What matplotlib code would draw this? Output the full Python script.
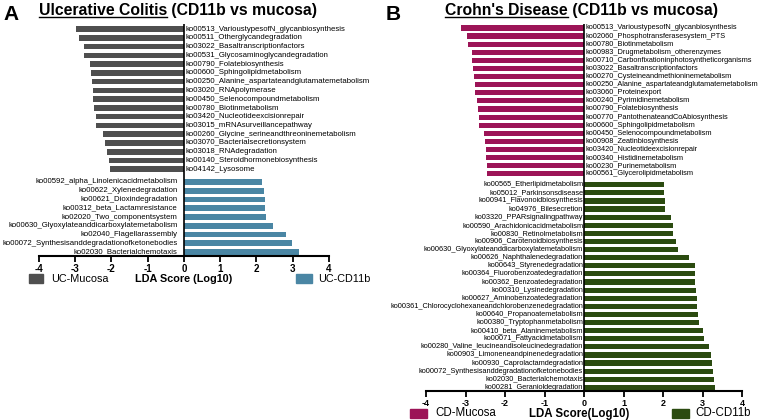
import matplotlib.pyplot as plt
import numpy as np
from matplotlib.patches import Rectangle
from matplotlib.lines import Line2D

plt.rcParams['font.family'] = ['Liberation Sans', 'DejaVu Sans']
plt.rcParams['axes.unicode_minus'] = False

# ---- data: Ulcerative Colitis ----
uc_muc_labels = [
    'ko00513_VarioustypesofN_glycanbiosynthesis', 'ko00511_Otherglycandegradation',
    'ko03022_Basaltranscriptionfactors', 'ko00531_Glycosaminoglycandegradation',
    'ko00790_Folatebiosynthesis', 'ko00600_Sphingolipidmetabolism',
    'ko00250_Alanine_aspartateandglutamatemetabolism', 'ko03020_RNApolymerase',
    'ko00450_Selenocompoundmetabolism', 'ko00780_Biotinmetabolism',
    'ko03420_Nucleotideexcisionrepair', 'ko03015_mRNAsurveillancepathway',
    'ko00260_Glycine_serineandthreoninemetabolism', 'ko03070_Bacterialsecretionsystem',
    'ko03018_RNAdegradation', 'ko00140_Steroidhormonebiosynthesis', 'ko04142_Lysosome']
uc_muc_lda = [-2.97, -2.90, -2.75, -2.74, -2.59, -2.55, -2.53, -2.51, -2.49, -2.48,
              -2.42, -2.41, -2.23, -2.17, -2.11, -2.06, -2.03]
uc_cd_labels = [
    'ko00592_alpha_Linolenicacidmetabolism', 'ko00622_Xylenedegradation',
    'ko00621_Dioxindegradation', 'ko00312_beta_Lactamresistance',
    'ko02020_Two_componentsystem', 'ko00630_Glyoxylateanddicarboxylatemetabolism',
    'ko02040_Flagellarassembly', 'ko00072_Synthesisanddegradationofketonebodies',
    'ko02030_Bacterialchemotaxis']
uc_cd_lda = [2.14, 2.21, 2.23, 2.24, 2.26, 2.46, 2.81, 2.99, 3.18]

# ---- data: Crohn's Disease ----
cd_muc_labels = [
    'ko00513_VarioustypesofN_glycanbiosynthesis', 'ko02060_Phosphotransferasesystem_PTS',
    'ko00780_Biotinmetabolism', 'ko00983_Drugmetabolism_otherenzymes',
    'ko00710_Carbonfixationinphotosyntheticorganisms', 'ko03022_Basaltranscriptionfactors',
    'ko00270_Cysteineandmethioninemetabolism', 'ko00250_Alanine_aspartateandglutamatemetabolism',
    'ko03060_Proteinexport', 'ko00240_Pyrimidinemetabolism', 'ko00790_Folatebiosynthesis',
    'ko00770_PantothenateandCoAbiosynthesis', 'ko00600_Sphingolipidmetabolism',
    'ko00450_Selenocompoundmetabolism', 'ko00908_Zeatinbiosynthesis',
    'ko03420_Nucleotideexcisionrepair', 'ko00340_Histidinemetabolism',
    'ko00230_Purinemetabolism', 'ko00561_Glycerolipidmetabolism']
cd_muc_lda = [-3.12, -2.95, -2.94, -2.84, -2.83, -2.82, -2.79, -2.77, -2.76, -2.72,
              -2.69, -2.67, -2.66, -2.53, -2.51, -2.49, -2.48, -2.46, -2.45]
cd_cd_labels = [
    'ko00565_Etherlipidmetabolism', 'ko05012_Parkinsonsdisease', 'ko00941_Flavonoidbiosynthesis',
    'ko04976_Bilesecretion', 'ko03320_PPARsignalingpathway', 'ko00590_Arachidonicacidmetabolism',
    'ko00830_Retinolmetabolism', 'ko00906_Carotenoidbiosynthesis',
    'ko00630_Glyoxylateanddicarboxylatemetabolism', 'ko00626_Naphthalenedegradation',
    'ko00643_Styrenedegradation', 'ko00364_Fluorobenzoatedegradation',
    'ko00362_Benzoatedegradation', 'ko00310_Lysinedegradation',
    'ko00627_Aminobenzoatedegradation', 'ko00361_Chlorocyclohexaneandchlorobenzenedegradation',
    'ko00640_Propanoatemetabolism', 'ko00380_Tryptophanmetabolism',
    'ko00410_beta_Alaninemetabolism', 'ko00071_Fattyacidmetabolism',
    'ko00280_Valine_leucineandisoleucinedegradation', 'ko00903_Limoneneandpinenedegradation',
    'ko00930_Caprolactamdegradation', 'ko00072_Synthesisanddegradationofketonebodies',
    'ko02030_Bacterialchemotaxis', 'ko00281_Geranioldegradation']
cd_cd_lda = [2.03, 2.03, 2.05, 2.05, 2.21, 2.25, 2.25, 2.32, 2.37, 2.66, 2.80, 2.81,
             2.82, 2.84, 2.86, 2.87, 2.89, 2.92, 3.00, 3.05, 3.16, 3.22, 3.25, 3.27,
             3.28, 3.32]

W, H = 765, 420
fig = plt.figure(figsize=(W / 100, H / 100), dpi=100)


def fx(x):
    return x / W


def fy(y):
    return 1 - y / H


def lefse_panel(rect, neg_labels, neg_vals, pos_labels, pos_vals, neg_col, pos_col,
                gap, lab_fs, pos_lab_x, tick_fs):
    ax = fig.add_axes(rect)
    n_neg = len(neg_vals)
    n_pos = len(pos_vals)
    y_neg = np.arange(n_neg)
    y_pos = np.arange(n_pos) + n_neg + gap
    ax.barh(y_neg, neg_vals, height=0.64, color=neg_col)
    ax.barh(y_pos, pos_vals, height=0.64, color=pos_col)
    for y, lab in zip(y_neg, neg_labels):
        ax.text(0.04, y, lab, ha='left', va='center', fontsize=lab_fs)
    for y, lab in zip(y_pos, pos_labels):
        ax.text(pos_lab_x, y, lab, ha='right', va='center', fontsize=lab_fs)
    ax.set_xlim(-4, 4)
    ax.set_ylim(y_pos[-1] + 0.45, -0.55)
    ax.axvline(0, color='black', lw=1.2)
    for s in ['top', 'right', 'left']:
        ax.spines[s].set_visible(False)
    ax.spines['bottom'].set_linewidth(1.5)
    ax.set_yticks([])
    ax.set_xticks(np.arange(-4, 5))
    ax.tick_params(axis='x', length=4, width=1.3, labelsize=tick_fs, pad=1.5)
    for t in ax.get_xticklabels():
        t.set_fontweight('bold')
    return ax


# panel A
ax1 = lefse_panel([fx(38.7), fy(256), fx(329) - fx(38.7), (256 - 24.2) / H],
                  uc_muc_labels, uc_muc_lda, uc_cd_labels, uc_cd_lda,
                  '#4f4f4f', '#4a86a4', 0.45, 5.6, -0.17, 7)
# panel B
ax2 = lefse_panel([fx(426), fy(391), fx(742) - fx(426), (391 - 23.5) / H],
                  cd_muc_labels, cd_muc_lda, cd_cd_labels, cd_cd_lda,
                  '#9c1457', '#2b4b10', 0.35, 5.35, -0.02, 6.5)


def legend_row(y, left_patch, left_col, left_txt, mid_x, mid_txt, right_patch, right_col,
               right_txt, fs, mid_fs):
    fig.patches.append(Rectangle((fx(left_patch[0]), fy(y + 4.5)), fx(left_patch[1]),
                                 9 / H, color=left_col, transform=fig.transFigure))
    fig.text(fx(left_patch[0] + left_patch[1] + 8), fy(y), left_txt, fontsize=fs,
             va='center', ha='left')
    fig.text(fx(mid_x), fy(y), mid_txt, fontsize=mid_fs, fontweight='bold',
             va='center', ha='center')
    fig.patches.append(Rectangle((fx(right_patch[0]), fy(y + 4.5)), fx(right_patch[1]),
                                 9 / H, color=right_col, transform=fig.transFigure))
    fig.text(fx(right_patch[0] + right_patch[1] + 6), fy(y), right_txt, fontsize=fs,
             va='center', ha='left')


legend_row(278.5, (29, 14), '#4f4f4f', 'UC-Mucosa', 184, 'LDA Score (Log10)',
           (296, 16), '#4a86a4', 'UC-CD11b', 7.8, 7.8)
legend_row(413.5, (410, 17), '#9c1457', 'CD-Mucosa', 579, 'LDA Score(Log10)',
           (672, 17), '#2b4b10', 'CD-CD11b', 8.3, 8.3)

# titles with underlined disease names
fig.text(fx(3), fy(14), 'A', fontsize=15, fontweight='bold', va='center', ha='left')
fig.text(fx(386), fy(14), 'B', fontsize=15, fontweight='bold', va='center', ha='left')

titles = [(39, 'Ulcerative Colitis', ' (CD11b vs mucosa)'),
          (445, "Crohn's Disease", ' (CD11b vs mucosa)')]
fig.canvas.draw()
renderer = fig.canvas.get_renderer()
for x0, under, rest in titles:
    t1 = fig.text(fx(x0), fy(15), under, fontsize=11.3, fontweight='bold',
                  va='baseline', ha='left')
    bb = t1.get_window_extent(renderer)
    fig.text(bb.x1 / W, fy(15), rest, fontsize=11.3, fontweight='bold',
             va='baseline', ha='left')
    fig.lines.append(Line2D([bb.x0 / W, bb.x1 / W], [fy(16.5), fy(16.5)], color='black',
                            lw=1.0, transform=fig.transFigure))

fig.savefig('out.png', dpi=100)
